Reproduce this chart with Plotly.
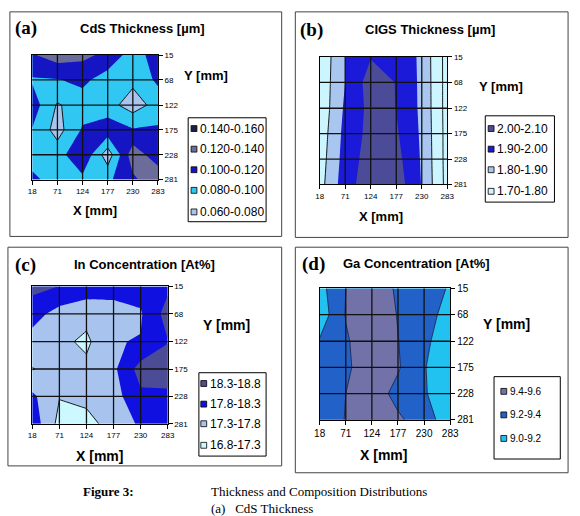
import plotly.graph_objects as go

W, H = 580, 516

# ---------------- data ----------------
X_MM = [18, 71, 124, 177, 230, 283]
Y_MM = [15, 68, 122, 175, 228, 281]
X_TICKS = ["18", "71", "124", "177", "230", "283"]
Y_TICKS = ["15", "68", "122", "175", "228", "281"]

# rows follow Y_MM (15 ... 281), columns follow X_MM (18 ... 283)
CDS_THICKNESS = [
    [0.118, 0.130, 0.125, 0.115, 0.090, 0.110],
    [0.098, 0.099, 0.105, 0.090, 0.085, 0.104],
    [0.110, 0.078, 0.090, 0.088, 0.070, 0.088],
    [0.099, 0.072, 0.1025, 0.112, 0.102, 0.103],
    [0.090, 0.091, 0.118, 0.068, 0.132, 0.108],
    [0.105, 0.090, 0.095, 0.096, 0.116, 0.135],
]
CIGS_THICKNESS = [
    [1.720, 1.900, 1.995, 1.995, 1.875, 1.660],
    [1.728, 1.900, 2.047, 1.997, 1.878, 1.660],
    [1.725, 1.917, 2.029, 1.999, 1.880, 1.660],
    [1.739, 1.931, 2.032, 2.013, 1.885, 1.662],
    [1.750, 1.942, 2.047, 2.034, 1.890, 1.662],
    [1.762, 1.956, 2.061, 2.056, 1.895, 1.665],
]
IN_CONC = [
    [18.45, 18.29, 18.10, 18.00, 18.00, 18.20],
    [18.00, 17.61, 17.46, 17.60, 17.75, 18.50],
    [17.60, 17.42, 17.20, 17.78, 17.82, 18.28],
    [17.28, 17.50, 17.42, 17.70, 18.50, 18.55],
    [17.90, 17.32, 17.50, 17.60, 18.20, 18.20],
    [18.10, 17.15, 17.05, 17.60, 17.85, 18.00],
]
GA_CONC = [
    [9.130, 9.400, 9.550, 9.365, 9.250, 9.190],
    [9.080, 9.410, 9.550, 9.390, 9.270, 9.133],
    [9.217, 9.378, 9.520, 9.405, 9.240, 9.086],
    [9.250, 9.370, 9.500, 9.420, 9.210, 9.080],
    [9.270, 9.400, 9.500, 9.340, 9.220, 9.060],
    [9.250, 9.410, 9.520, 9.430, 9.310, 9.066],
]

# legend labels (high -> low, as listed in the legends) and band colours
CDS_BANDS = ["0.140-0.160", "0.120-0.140", "0.100-0.120", "0.080-0.100", "0.060-0.080"]
CDS_COLORS = ["#1a1f48", "#6c6c9a", "#1515c4", "#30c8f2", "#a9c5ee"]
CIGS_BANDS = ["2.00-2.10", "1.90-2.00", "1.80-1.90", "1.70-1.80"]
CIGS_COLORS = ["#4b4b98", "#1a1ad8", "#a8c6f0", "#ccf6ff"]
IN_BANDS = ["18.3-18.8", "17.8-18.3", "17.3-17.8", "16.8-17.3"]
IN_COLORS = ["#4b4b96", "#1010e0", "#a8c4ee", "#ccf8ff"]
GA_BANDS = ["9.4-9.6", "9.2-9.4", "9.0-9.2"]
GA_COLORS = ["#7272a8", "#2262c8", "#22c2f0"]

TITLES = ["CdS Thickness [µm]", "CIGS Thickness [µm]", "In Concentration [At%]", "Ga Concentration [At%]"]
LETTERS = ["(a)", "(b)", "(c)", "(d)"]

panels = [
    dict(z=CDS_THICKNESS, bands=CDS_BANDS, colors=CDS_COLORS, lev=(0.06, 0.16, 0.02), outline=(0.08, 0.08), all_lines=False,
         box=(4, 7, 283, 236), plot=(27, 51, 156, 178), letter=(7, 23), title=(140, 24), ylab=(205, 72, 13),
         xlab=(91, 210), leg=(187, 115, 267, 221), leg_y=[126, 147, 168, 189, 211], leg_x=193, leg_font=12, tick=8),
    dict(z=CIGS_THICKNESS, bands=CIGS_BANDS, colors=CIGS_COLORS, lev=(1.7, 2.1, 0.1), outline=(1.7, 1.8), all_lines=False,
         box=(297, 7, 577, 237), plot=(322, 53, 453, 183), letter=(300, 25), title=(435, 25), ylab=(508, 83, 13),
         xlab=(385, 216), leg=(492, 113, 563, 201), leg_y=[126, 147, 168, 190], leg_x=498, leg_font=12, tick=8),
    dict(z=IN_CONC, bands=IN_BANDS, colors=IN_COLORS, lev=(16.8, 18.8, 0.5), outline=(17.3, 17.3), all_lines=False,
         box=(2, 247, 283, 470), plot=(27, 287, 166, 427), letter=(7, 265), title=(142, 265), ylab=(226, 326, 14),
         xlab=(96, 460), leg=(198, 375, 267, 460), leg_y=[386, 407, 427, 449], leg_x=203, leg_font=12, tick=8),
    dict(z=GA_CONC, bands=GA_BANDS, colors=GA_COLORS, lev=(9.0, 9.6, 0.2), outline=None, all_lines=True,
         box=(297, 247, 577, 477), plot=(322, 289, 456, 423), letter=(302, 264), title=(421, 264), ylab=(514, 325, 14),
         xlab=(388, 459), leg=(501, 379, 569, 463), leg_y=[394, 418, 442], leg_x=511, leg_font=10, tick=10),
]


def px(x):
    return x / W


def py(y):
    return 1 - y / H


def stepped(colors_low_to_high):
    n = len(colors_low_to_high)
    nc = n + 1
    cs = [[0, colors_low_to_high[0]]]
    for k, c in enumerate(colors_low_to_high):
        cs.append([(k + 1) / nc, c])
    cs.append([1, colors_low_to_high[-1]])
    return cs


SANS = "Liberation Sans"
SERIF = "Liberation Serif"

fig = go.Figure()
shapes = []
annotations = []
layout_axes = {}

for i, p in enumerate(panels, start=1):
    xa = "x" if i == 1 else f"x{i}"
    ya = "y" if i == 1 else f"y{i}"
    start, end, size = p["lev"]
    low_to_high = list(reversed(p["colors"]))

    fig.add_trace(go.Contour(
        x=X_MM, y=Y_MM, z=p["z"], xaxis=xa, yaxis=ya,
        autocontour=False,
        contours=dict(start=start, end=end, size=size, coloring="fill", showlines=p["all_lines"]),
        colorscale=stepped(low_to_high), showscale=False,
        line=dict(width=0.8 if p["all_lines"] else 0, color="#1c1c3c", smoothing=0),
        hoverinfo="skip",
    ))
    if p["outline"] is not None:
        fig.add_trace(go.Contour(
            x=X_MM, y=Y_MM, z=p["z"], xaxis=xa, yaxis=ya,
            autocontour=False,
            contours=dict(start=p["outline"][0], end=p["outline"][1], size=size, coloring="none", showlines=True),
            line=dict(width=0.9, color="black", smoothing=0),
            showscale=False, hoverinfo="skip",
        ))

    x0, y0, x1, y1 = p["plot"]
    common = dict(showgrid=False, zeroline=False, showline=True, linecolor="black", linewidth=1,
                  mirror=True, ticks="outside", ticklen=4, tickcolor="black", tickwidth=1,
                  tickfont=dict(family=SANS, size=p["tick"], color="black"), fixedrange=True)
    layout_axes["xaxis" if i == 1 else f"xaxis{i}"] = dict(
        domain=[px(x0), px(x1)], range=[X_MM[0], X_MM[-1]], tickmode="array",
        tickvals=X_MM, ticktext=X_TICKS, anchor=ya, **common)
    layout_axes["yaxis" if i == 1 else f"yaxis{i}"] = dict(
        domain=[py(y1), py(y0)], range=[Y_MM[-1], Y_MM[0]], tickmode="array",
        tickvals=Y_MM, ticktext=Y_TICKS, anchor=xa, side="right", **common)

    # grid lines above the filled contours
    for v in X_MM[1:-1]:
        shapes.append(dict(type="line", xref=xa, yref=f"{ya} domain", x0=v, x1=v, y0=0, y1=1,
                           line=dict(color="#111111", width=1.3), layer="above"))
    for v in Y_MM[1:-1]:
        shapes.append(dict(type="line", xref=f"{xa} domain", yref=ya, x0=0, x1=1, y0=v, y1=v,
                           line=dict(color="#111111", width=1.3), layer="above"))

    # panel frame
    bx0, by0, bx1, by1 = p["box"]
    shapes.append(dict(type="rect", xref="paper", yref="paper", x0=px(bx0), x1=px(bx1), y0=py(by1), y1=py(by0),
                       line=dict(color="#444444", width=1), fillcolor="rgba(0,0,0,0)", layer="below"))

    # legend box and entries
    lx0, ly0, lx1, ly1 = p["leg"]
    shapes.append(dict(type="rect", xref="paper", yref="paper", x0=px(lx0), x1=px(lx1), y0=py(ly1), y1=py(ly0),
                       line=dict(color="black", width=1), fillcolor="white", layer="above"))
    for lab, col, yy in zip(p["bands"], p["colors"], p["leg_y"]):
        mx = p["leg_x"]
        shapes.append(dict(type="rect", xref="paper", yref="paper", x0=px(mx - 3), x1=px(mx + 3),
                           y0=py(yy + 3), y1=py(yy - 3), line=dict(color="black", width=0.8),
                           fillcolor=col, layer="above"))
        annotations.append(dict(text=lab, xref="paper", yref="paper", x=px(mx + 4), y=py(yy),
                                xanchor="left", yanchor="middle", showarrow=False,
                                font=dict(family=SANS, size=p["leg_font"], color="black")))

    # texts
    annotations.append(dict(text=f"<b>{LETTERS[i-1]}</b>", xref="paper", yref="paper",
                            x=px(p["letter"][0]), y=py(p["letter"][1]), xanchor="left", yanchor="middle",
                            showarrow=False, font=dict(family=SERIF, size=19, color="black")))
    annotations.append(dict(text=f"<b>{TITLES[i-1]}</b>", xref="paper", yref="paper",
                            x=px(p["title"][0]), y=py(p["title"][1]), xanchor="center", yanchor="middle",
                            showarrow=False, font=dict(family=SANS, size=13, color="black")))
    annotations.append(dict(text="<b>Y [mm]</b>", xref="paper", yref="paper",
                            x=px(p["ylab"][0]), y=py(p["ylab"][1]), xanchor="center", yanchor="middle",
                            showarrow=False, font=dict(family=SANS, size=p["ylab"][2], color="black")))
    annotations.append(dict(text="<b>X [mm]</b>", xref="paper", yref="paper",
                            x=px(p["xlab"][0]), y=py(p["xlab"][1]), xanchor="center", yanchor="middle",
                            showarrow=False, font=dict(family=SANS, size=p["ylab"][2], color="black")))

# caption
annotations.append(dict(text="<b>Figure 3:</b>", xref="paper", yref="paper", x=px(77), y=py(496),
                        xanchor="left", yanchor="middle", showarrow=False,
                        font=dict(family=SERIF, size=13, color="black")))
annotations.append(dict(text="Thickness and Composition Distributions", xref="paper", yref="paper",
                        x=px(208), y=py(496), xanchor="left", yanchor="middle", showarrow=False,
                        font=dict(family=SERIF, size=13, color="black")))
annotations.append(dict(text="(a)   CdS Thickness", xref="paper", yref="paper",
                        x=px(208), y=py(513), xanchor="left", yanchor="middle", showarrow=False,
                        font=dict(family=SERIF, size=13, color="black")))

fig.update_layout(
    width=W, height=H, margin=dict(l=0, r=0, t=0, b=0),
    paper_bgcolor="white", plot_bgcolor="white", showlegend=False,
    shapes=shapes, annotations=annotations, **layout_axes,
)

fig.write_html("out.html", config={"displayModeBar": False})
